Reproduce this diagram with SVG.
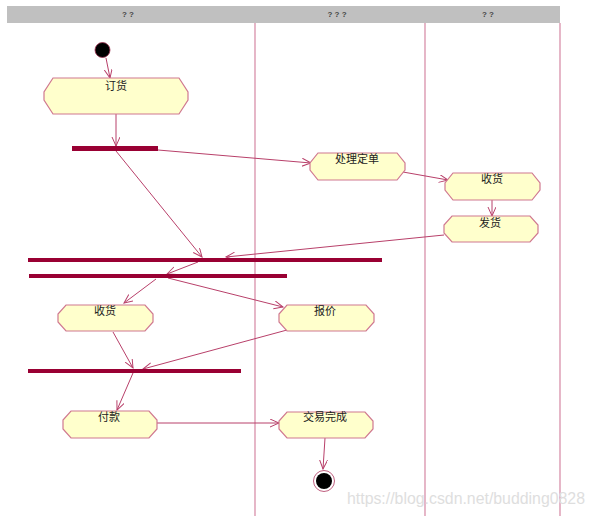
<svg xmlns="http://www.w3.org/2000/svg" width="595" height="516" viewBox="0 0 595 516">
<style>
.lane{stroke:#d890aa;stroke-width:1.3;fill:none}
.hdr{font-family:"Liberation Sans",sans-serif;font-size:8px;font-weight:bold;fill:#444;text-anchor:middle}
.act{fill:#ffffcc;stroke:#d07890;stroke-width:1.2}
.lbl{font-family:"Noto Sans CJK SC",sans-serif;font-size:11px;fill:#222;text-anchor:middle}
.bar{fill:#990033}
.edge{stroke:#b8406a;stroke-width:1;fill:none;marker-end:url(#arr)}
.wm{font-family:"Liberation Sans",sans-serif;font-size:16px;fill:#dedede}
</style>
<defs>
<marker id="arr" markerUnits="userSpaceOnUse" markerWidth="12" markerHeight="10" refX="9" refY="4" orient="auto">
<path d="M0,0 L9,4 L0,8" fill="none" stroke="#b8406a" stroke-width="1"/>
</marker>
</defs>
<rect width="595" height="516" fill="#fff"/>
<g id="lanes">
<rect x="7" y="6" width="553" height="17" fill="#c0c0c0"/>
<text class="hdr" x="128" y="17">? ?</text>
<text class="hdr" x="337" y="17">? ? ?</text>
<text class="hdr" x="488" y="17">? ?</text>
<line class="lane" x1="255" y1="23" x2="255" y2="516"/>
<line class="lane" x1="425" y1="23" x2="425" y2="516"/>
<line class="lane" x1="560" y1="23" x2="560" y2="516"/>
</g>
<g id="connectors">
<path class="edge" d="M106,58 L110,78"/>
<path class="edge" d="M116,114 L116,146"/>
<path class="edge" d="M158,150 L311,163"/>
<path class="edge" d="M403,172 L448,180"/>
<path class="edge" d="M492,200 L492,216"/>
<path class="edge" d="M116,151 L202,257"/>
<path class="edge" d="M444,235 L226,257"/>
<path class="edge" d="M198,262 L167,274"/>
<path class="edge" d="M156,279 L124,303"/>
<path class="edge" d="M168,278 L283,307"/>
<path class="edge" d="M113,332 L133,368"/>
<path class="edge" d="M287,330 L143,369"/>
<path class="edge" d="M133,373 L117,410"/>
<path class="edge" d="M157,423 L279,423"/>
<path class="edge" d="M325,438 L323,469"/>
</g>
<g id="start"><circle cx="102.5" cy="50" r="7.5" fill="#000" stroke="#a03050" stroke-width="0.8"/></g>
<g id="order"><path class="act" d="M53,78 H179 L188,92 V100 L179,114 H53 L44,100 V92 Z"/><text class="lbl" x="116" y="90">订货</text></g>
<g id="fork1"><rect class="bar" x="72" y="146" width="86" height="5"/></g>
<g id="process"><path class="act" d="M318,153 H397 L405,163 V170 L397,180 H318 L310,170 V163 Z"/><text class="lbl" x="357" y="163">处理定单</text></g>
<g id="receive1"><path class="act" d="M453,173 H532 L540,183 V190 L532,200 H453 L445,190 V183 Z"/><text class="lbl" x="492" y="183">收货</text></g>
<g id="ship"><path class="act" d="M452,216 H530 L538,225 V233 L530,242 H452 L444,233 V225 Z"/><text class="lbl" x="490" y="227">发货</text></g>
<g id="join1"><rect class="bar" x="28" y="258" width="354" height="4"/></g>
<g id="fork2"><rect class="bar" x="29" y="274" width="258" height="4"/></g>
<g id="receive2"><path class="act" d="M66,305 H145 L153,314 V322 L145,331 H66 L58,322 V314 Z"/><text class="lbl" x="105" y="315">收货</text></g>
<g id="quote"><path class="act" d="M287,305 H366 L374,314 V322 L366,331 H287 L279,322 V314 Z"/><text class="lbl" x="325" y="315">报价</text></g>
<g id="join2"><rect class="bar" x="28" y="369" width="213" height="4"/></g>
<g id="pay"><path class="act" d="M71,411 H149 L157,420 V429 L149,438 H71 L63,429 V420 Z"/><text class="lbl" x="109" y="421">付款</text></g>
<g id="done"><path class="act" d="M287,412 H365 L373,421 V429 L365,438 H287 L279,429 V421 Z"/><text class="lbl" x="325" y="421">交易完成</text></g>
<g id="end"><circle cx="324" cy="481" r="10.5" fill="#fff" stroke="#c06080" stroke-width="1"/><circle cx="324" cy="481" r="8" fill="#000"/></g>
<text class="wm" x="347" y="504" textLength="238" lengthAdjust="spacingAndGlyphs">https://blog.csdn.net/budding0828</text>
</svg>
